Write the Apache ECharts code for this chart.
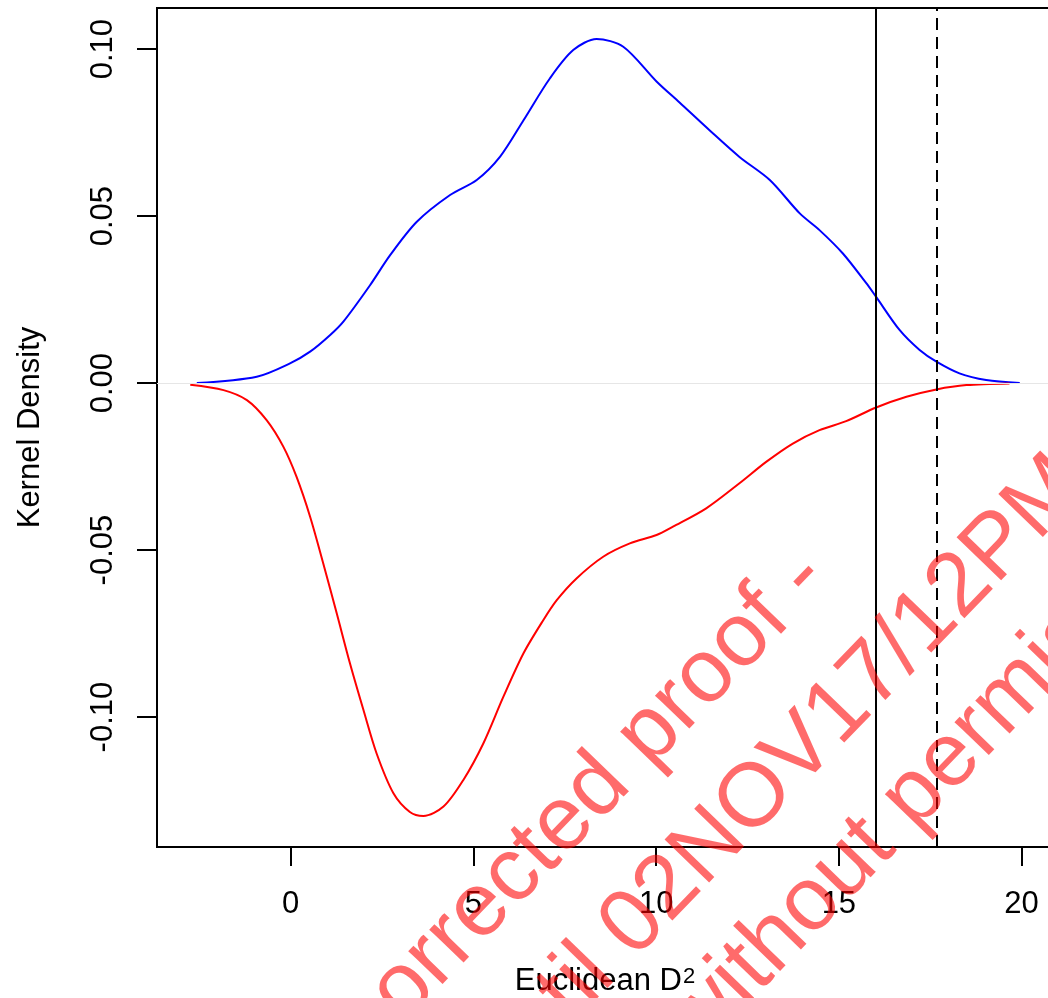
<!DOCTYPE html>
<html>
<head>
<meta charset="utf-8">
<script src="https://cdn.jsdelivr.net/npm/echarts@6/dist/echarts.min.js"></script>
<style>
  html, body { margin: 0; padding: 0; background: #fff; overflow: hidden; }
  #chart { width: 1060px; height: 998px; }
</style>
</head>
<body>
<div id="chart"></div>
<script>
// density curves
const blueX = [-2.57, -0.93, -0.02, 0.53, 1.08, 1.44, 2.17, 2.72, 3.45, 4.36, 5.09, 5.73, 6.37, 7.09, 7.73, 8.37, 9.10, 10.01,
  10.64, 11.46, 12.28, 13.11, 13.93, 14.47, 15.11, 15.75, 16.02, 16.66, 17.21, 17.67, 18.30, 19.03, 19.95]
const blueY = [0, 0.0019, 0.0059, 0.0094, 0.0144, 0.0184, 0.0293, 0.0383, 0.0483, 0.0563, 0.0608, 0.0678, 0.0787, 0.0912, 0.0997, 0.1030, 0.1007, 0.0903,
  0.0840, 0.0757, 0.0677, 0.0608, 0.0508, 0.0458, 0.0388, 0.0299, 0.0258, 0.0159, 0.0099, 0.0064, 0.0029, 0.0009, 0]

const redX = [-2.75, -1.84, -1.20, -0.66, -0.20, 0.16, 0.53, 0.89, 1.26, 1.62, 1.99, 2.35, 2.81, 3.26, 3.63, 4.18, 4.72, 5.27, 5.82,
  6.37, 6.91, 7.28, 7.82, 8.55, 9.28, 10.01, 10.46, 11.37, 12.28, 13.01, 13.74, 14.47, 15.20, 16.02, 16.85, 17.67, 18.49, 19.67]
const redY = [-0.0005, -0.0021, -0.0051, -0.0111, -0.0191, -0.0281, -0.0400, -0.0540, -0.0690, -0.0839, -0.0979, -0.1109, -0.1228, -0.1284, -0.1296, -0.1268, -0.1189, -0.1079, -0.0939,
  -0.0809, -0.0710, -0.0650, -0.0585, -0.0520, -0.0480, -0.0455, -0.0430, -0.0375, -0.0300, -0.0236, -0.0181, -0.0141, -0.0114, -0.0073, -0.0041, -0.0019, -0.0006, -0.0001]

const cutoffs = [16.02, 17.67]
const xTicks = [0, 5, 10, 15, 20]
const yTicks = [-0.10, -0.05, 0, 0.05, 0.10]

const zip = (xs, ys) => xs.map((x, i) => [x, ys[i]])

// watermark lines (rotated text laid over the plot)
const wmLines = ['Uncorrected proof -', 'until 02NOV17/12PM', 'without permission']
const wmStarts = [[297, 1144], [507, 1101], [704, 1059]]
const wmSize = 90
const wmAngle = 46 * Math.PI / 180
const up = [-Math.sin(wmAngle), -Math.cos(wmAngle)]
const watermark = wmLines.map((t, i) => ({
  type: 'text',
  x: wmStarts[i][0] + up[0] * wmSize * 0.3465,
  y: wmStarts[i][1] + up[1] * wmSize * 0.3465,
  rotation: wmAngle,
  z: 100,
  silent: true,
  style: {
    text: t,
    fontSize: wmSize,
    fontFamily: 'Liberation Sans',
    fill: 'rgba(255,0,0,0.58)',
    textAlign: 'left',
    textVerticalAlign: 'middle'
  }
}))

const font = 'Liberation Sans'
let option = {
  animation: false,
  grid: {
    left: 157,
    top: 8,
    right: 7,
    bottom: 151,
    outerBoundsMode: 'none',
    show: true,
    borderColor: '#000',
    borderWidth: 2
  },
  xAxis: {
    type: 'value',
    min: -3.66,
    max: 20.86,
    name: 'Euclidean D{sup|2}',
    nameLocation: 'middle',
    nameGap: 119,
    nameTextStyle: {
      fontFamily: font, fontSize: 31, lineHeight: 31, color: '#000',
      rich: { sup: { fontFamily: font, fontSize: 22, lineHeight: 4, verticalAlign: 'top', color: '#000', padding: [0, 0, 0, 1] } }
    },
    axisLine: { show: false, onZero: false },
    splitLine: { show: false },
    axisTick: { customValues: xTicks, length: 19, lineStyle: { color: '#000', width: 2 } },
    axisLabel: { customValues: xTicks, margin: 42, fontFamily: font, fontSize: 31, color: '#000' }
  },
  yAxis: {
    type: 'value',
    min: -0.1389,
    max: 0.1123,
    name: 'Kernel Density',
    nameLocation: 'middle',
    nameGap: 111,
    nameTextStyle: { fontFamily: font, fontSize: 31, color: '#000' },
    axisLine: { show: false, onZero: false },
    splitLine: { show: false },
    axisTick: { customValues: yTicks, length: 20, lineStyle: { color: '#000', width: 2 } },
    axisLabel: {
      customValues: yTicks,
      rotate: 90,
      margin: 38,
      fontFamily: font,
      fontSize: 31,
      color: '#000',
      formatter: v => v.toFixed(2)
    }
  },
  series: [
    {
      type: 'line',
      data: zip(blueX, blueY),
      showSymbol: false,
      smooth: 0.3,
      lineStyle: { color: '#0000ff', width: 2 },
      markLine: {
        silent: true,
        symbol: 'none',
        label: { show: false },
        lineStyle: { color: '#e6e6e6', width: 1, type: 'solid' },
        data: [{ yAxis: 0 }]
      }
    },
    {
      type: 'line',
      data: zip(redX, redY),
      showSymbol: false,
      smooth: 0.3,
      lineStyle: { color: '#ff0000', width: 2 },
      markLine: {
        silent: true,
        symbol: 'none',
        label: { show: false },
        data: [
          { xAxis: cutoffs[0], lineStyle: { color: '#000', width: 2, type: 'solid' } },
          { xAxis: cutoffs[1], lineStyle: { color: '#000', width: 2, type: [12, 7] } }
        ]
      }
    }
  ],
  graphic: watermark
}

let chart = echarts.init(document.getElementById('chart'))
chart.setOption(option)
</script>
</body>
</html>
